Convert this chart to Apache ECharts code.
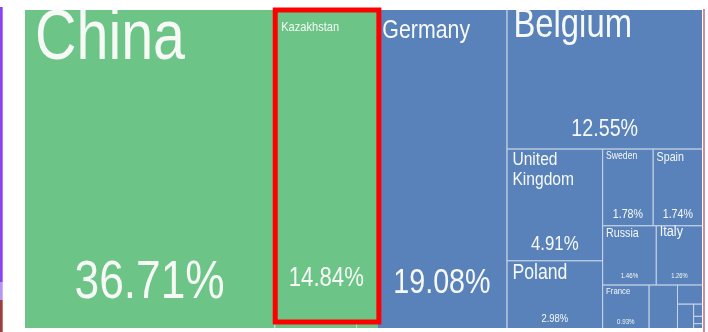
<!DOCTYPE html>
<html>
<head>
<meta charset="utf-8">
<script src="https://cdn.jsdelivr.net/npm/echarts@6/dist/echarts.min.js"></script>
<style>
  html, body { margin: 0; padding: 0; background: #ffffff; }
  #main { width: 708px; height: 332px; }
</style>
</head>
<body>
<div id="main"></div>
<script>
// Export destinations, share of total exports (%)
const asiaNames = ['China', 'Kazakhstan', 'Kyrgyzstan', 'Uzbekistan'];
const asiaShares = [36.71, 14.84, 0.23, 0.06];

const europeNames = ['Germany', 'Belgium', 'United Kingdom', 'Poland', 'Sweden', 'Spain',
  'Russia', 'Italy', 'France', 'Netherlands', 'Austria', 'Czechia', 'Finland', 'Latvia', 'Lithuania'];
const europeShares = [19.08, 12.55, 4.91, 2.98, 1.78, 1.74,
  1.46, 1.26, 0.93, 0.57, 0.22, 0.18, 0.05, 0.03, 0.02];

const FONT = '"Liberation Sans", Arial, sans-serif';
const NARROW = 0.82;          // horizontal squeeze for a condensed look
const TEXT = '#f6f9f6';

// Country name label: [fontSize, dx, dy] from the cell's top-left corner
const nameLabel = {
  'China': [70, 10, -7],
  'Kazakhstan': [13.5, 6, 10],
  'Germany': [26, 5, 7],
  'Belgium': [40, 6, -5],
  'United Kingdom': [19, 5, 0],
  'Poland': [21.5, 5, 0],
  'Sweden': [10.5, 3, 1],
  'Spain': [13, 3, 1],
  'Russia': [13, 3, 0],
  'Italy': [15.5, 3, -3],
  'France': [9.5, 3, 1]
};
// Share label font size
const shareLabel = {
  'China': 54, 'Kazakhstan': 27, 'Germany': 35, 'Belgium': 24,
  'United Kingdom': 20.5, 'Poland': 11.5, 'Sweden': 13, 'Spain': 13,
  'Russia': 7.5, 'Italy': 7, 'France': 7.5
};

function buildTree() {
  const groups = [
    { name: 'Asia', names: asiaNames, values: asiaShares, color: '#6cc486', line: '#b9e3c4' },
    { name: 'Europe', names: europeNames, values: europeShares, color: '#5a82ba', line: '#c9d7ea' }
  ];
  return groups.map(g => ({
    name: g.name,
    itemStyle: { color: g.color, borderColor: g.line },
    children: g.names.map((n, i) => ({ name: n, value: g.values[i] }))
  }));
}

const box = { left: 25, top: 10, width: 677, height: 318 };

const chart = echarts.init(document.getElementById('main'), null, { renderer: 'canvas' });

chart.setOption({
  backgroundColor: '#ffffff',
  tooltip: { show: false },
  series: [Object.assign({
    type: 'treemap',
    roam: false,
    nodeClick: false,
    silent: true,
    animation: false,
    breadcrumb: { show: false },
    squareRatio: 0.8,
    visibleMin: 0,
    label: { show: false },
    levels: [
      { itemStyle: { borderWidth: 0, gapWidth: 0, color: '#5a82ba', borderColor: '#ffffff' } },
      { itemStyle: { borderWidth: 0, gapWidth: 1 } },
      { itemStyle: { borderWidth: 0, gapWidth: 0 } }
    ],
    data: buildTree()
  }, box)]
});

// Absolute rectangle of a treemap node, taken from the series layout
const model = chart.getModel().getSeriesByIndex(0);
const tree = model.getData().tree;
const info = model.layoutInfo || { x: box.left, y: box.top };
function rectOf(node) {
  let x = 0, y = 0;
  for (let n = node; n; n = n.parentNode) {
    const l = n.getLayout();
    if (l) { x += l.x || 0; y += l.y || 0; }
  }
  const l = node.getLayout();
  return { x: x + info.x, y: y + info.y, width: l.width, height: l.height };
}

const graphics = [
  // side strips at the page edges
  { type: 'rect', silent: true, shape: { x: 0, y: 7, width: 2.7, height: 275 }, style: { fill: '#8a42f2' } },
  { type: 'rect', silent: true, shape: { x: 0, y: 282, width: 2.7, height: 18 }, style: { fill: '#b794f2' } },
  { type: 'rect', silent: true, shape: { x: 0, y: 300, width: 2.7, height: 32 }, style: { fill: '#9e3f3c' } },
  { type: 'rect', silent: true, shape: { x: 703.3, y: 9, width: 1.4, height: 323 }, style: { fill: '#c65570' } }
];

// Labels: country name at the top-left, share near the bottom, both read from the laid-out cells
tree.root.eachNode(node => {
  if (node.children && node.children.length) return;
  const r = rectOf(node);
  const ns = nameLabel[node.name];
  if (ns) {
    graphics.push({
      type: 'text', silent: true, z: 50,
      x: r.x + ns[1], y: r.y + ns[2], scaleX: NARROW,
      style: {
        text: node.name, fill: TEXT,
        font: ns[0] + 'px ' + FONT, lineHeight: Math.round(ns[0] * 1.06),
        align: 'left', verticalAlign: 'top',
        width: (r.width - 2 * ns[1]) / NARROW, overflow: 'break'
      }
    });
  }
  const fs = shareLabel[node.name];
  if (fs) {
    graphics.push({
      type: 'text', silent: true, z: 50,
      x: r.x + r.width / 2, y: r.y + r.height * 0.86, scaleX: NARROW,
      style: {
        text: node.getValue().toFixed(2) + '%', fill: TEXT,
        font: fs + 'px ' + FONT,
        align: 'center', verticalAlign: 'middle'
      }
    });
  }
  if (node.name === 'Kazakhstan') {
    graphics.push({
      type: 'rect', silent: true, z: 100,
      shape: { x: r.x, y: r.y, width: r.width + 1.5, height: r.height },
      style: { fill: 'none', stroke: '#ff0000', lineWidth: 5 }
    });
  }
});

chart.setOption({ graphic: graphics });
</script>
</body>
</html>
